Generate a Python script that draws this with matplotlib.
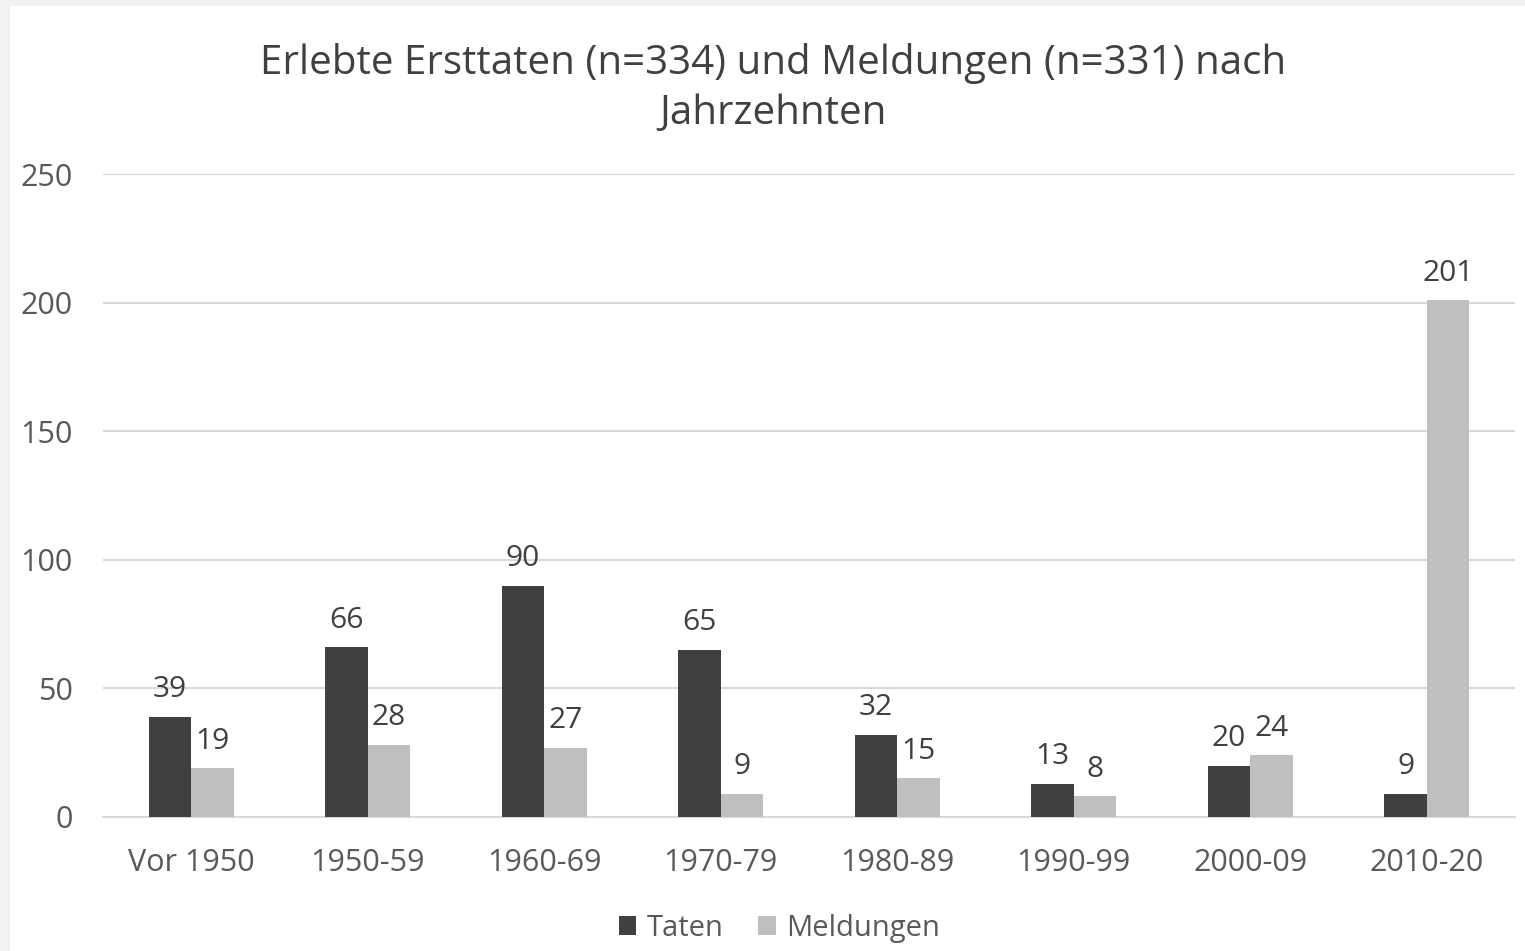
import matplotlib
matplotlib.use('Agg')
import matplotlib.pyplot as plt
import numpy as np

# data
categories = ['Vor 1950', '1950-59', '1960-69', '1970-79', '1980-89', '1990-99', '2000-09', '2010-20']
taten = [39, 66, 90, 65, 32, 13, 20, 9]
meldungen = [19, 28, 27, 9, 15, 8, 24, 201]
yticks = [0, 50, 100, 150, 200, 250]

plt.rcParams['font.family'] = ['Open Sans', 'DejaVu Sans']
txt = '#595959'

fig = plt.figure(figsize=(15.25, 9.51), dpi=100)
fig.patch.set_facecolor('#f2f2f2')
# white chart area inside the grey frame
bg = fig.add_axes([10 / 1525, 0, 1 - 10 / 1525, 1 - 6 / 951])
bg.set_facecolor('white')
bg.set_xticks([])
bg.set_yticks([])
for s in bg.spines.values():
    s.set_visible(False)

ax = fig.add_axes([103 / 1525, 1 - 817 / 951, (1515 - 103) / 1525, (817 - 174) / 951])
ax.set_facecolor('none')

x = np.arange(len(categories))
w = 0.24
b1 = ax.bar(x - w / 2, taten, w, color='#404040', label='Taten', zorder=3)
b2 = ax.bar(x + w / 2, meldungen, w, color='#bfbfbf', label='Meldungen', zorder=3)

for bars, vals in ((b1, taten), (b2, meldungen)):
    for r, v in zip(bars, vals):
        ax.annotate(str(v), (r.get_x() + r.get_width() / 2, v), xytext=(0, 9),
                    textcoords='offset points', ha='center', va='bottom',
                    fontsize=21.5, color='#404040')

ax.set_xlim(-0.5, len(categories) - 0.5)
ax.set_ylim(0, 250)
ax.set_yticks(yticks)
ax.yaxis.grid(True, color='#d9d9d9', linewidth=1.5, zorder=0)
ax.set_xticks(x)
ax.set_xticklabels(categories)
ax.tick_params(axis='both', length=0, labelsize=22, colors=txt)
ax.tick_params(axis='y', pad=22)
ax.tick_params(axis='x', pad=22)
for s in ['top', 'right', 'left']:
    ax.spines[s].set_visible(False)
ax.spines['bottom'].set_color('#d9d9d9')
ax.spines['bottom'].set_linewidth(1.5)

fig.text(0.507, 0.907, 'Erlebte Ersttaten (n=334) und Meldungen (n=331) nach\nJahrzehnten',
         ha='center', va='center', fontsize=29, color='#404040', linespacing=1.33)

fig.legend(handles=[b1, b2], loc='center', bbox_to_anchor=(0.511, 0.024), ncol=2,
           frameon=False, fontsize=21, labelcolor=txt, handlelength=0.6, handleheight=0.6,
           handletextpad=0.35, columnspacing=1.2)

fig.savefig('out.png', dpi=100)
